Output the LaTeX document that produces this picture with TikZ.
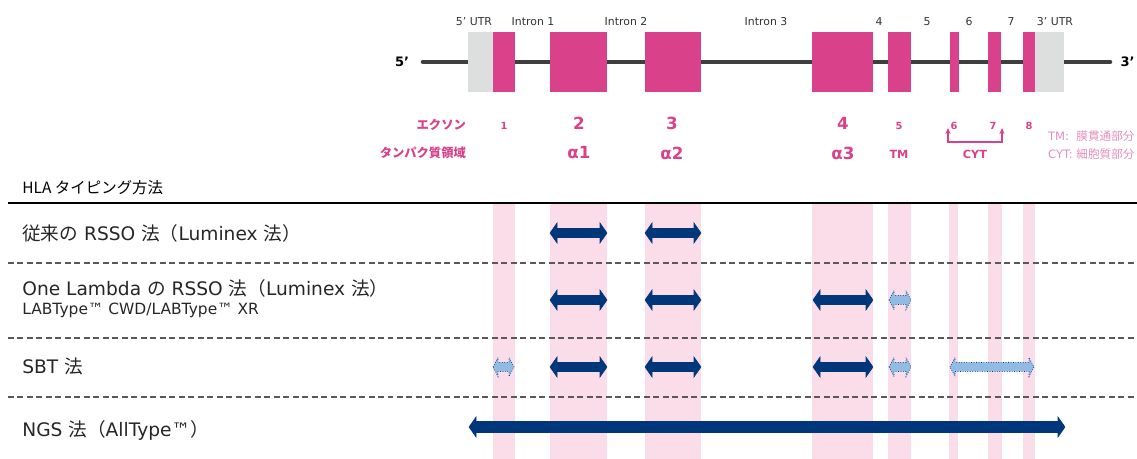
\documentclass[tikz,border=0pt]{standalone}
\usepackage{fontspec}
\setmainfont{DejaVu Sans}
\newfontfamily\jp{Noto Sans CJK JP}
\usetikzlibrary{arrows.meta}

\definecolor{exonpink}{HTML}{D9418A}
\definecolor{utrgray}{HTML}{DDDFDE}
\definecolor{genegray}{HTML}{3E3E3E}
\definecolor{stripepink}{HTML}{FBDDEA}
\definecolor{navy}{HTML}{00367A}
\definecolor{skyblue}{HTML}{92BBE3}
\definecolor{legendpink}{HTML}{E68DBB}

%% block arrow with two heads: [style]{x left}{x right}{y}
\newcommand{\blockarrow}[4][navy_arrow]{%
  \draw[#1] (#2,#4) -- (#2+\hl,#4-\hh) -- (#2+\hl,#4-\hb) -- (#3-\hl,#4-\hb)
    -- (#3-\hl,#4-\hh) -- (#3,#4) -- (#3-\hl,#4+\hh) -- (#3-\hl,#4+\hb)
    -- (#2+\hl,#4+\hb) -- (#2+\hl,#4+\hh) -- cycle;}

\begin{document}
\begin{tikzpicture}[
    x=0.02cm, y=-0.02cm,
    arrow_dims/.code n args={3}{\def\hl{#1}\def\hh{#2}\def\hb{#3}},
    navy_arrow/.style={fill=navy, draw=navy, line width=0.3pt, arrow_dims={7}{10}{4.5}},
    sky_arrow/.style={fill=skyblue, draw=navy, line width=0.4pt, densely dotted, arrow_dims={5}{9.5}{4.5}},
    ngs_arrow/.style={fill=navy, draw=navy, line width=0.3pt, arrow_dims={7}{10}{5.5}},
    stripe/.style={fill=stripepink},
    row_sep/.style={draw=black!65, line width=0.8pt, dash pattern=on 3.4pt off 2pt},
    toplabel/.style={font=\fontsize{6.2}{7}\selectfont, text=black!80, inner sep=1pt},
    exon_num/.style={font=\fontsize{5.6}{6}\selectfont\bfseries, text=exonpink, inner sep=1pt},
    exon_big/.style={font=\fontsize{9.5}{10}\selectfont\bfseries, text=exonpink, inner sep=1pt},
    domain_small/.style={font=\fontsize{6.4}{7}\selectfont\bfseries, text=exonpink, inner sep=1pt},
    row_head/.style={font=\fontsize{7}{8}\selectfont\jp\bfseries, text=exonpink, anchor=east, inner sep=1pt},
    legend/.style={font=\fontsize{6.6}{7}\selectfont, text=legendpink, anchor=west, inner sep=1pt},
    method/.style={font=\fontsize{10.6}{12}\selectfont, text=black!85, anchor=west, inner sep=0pt},
    method_sub/.style={font=\fontsize{8.8}{9}\selectfont, text=black!85, anchor=west, inner sep=0pt}
]
\useasboundingbox (0,0) rectangle (1137,459);

%% ── exon stripes ───────────────────────────
\foreach \xa/\xb in {493/515, 550/607, 645/701, 812/873, 888/911, 949/958, 988/1002, 1023/1035}{
    \fill[stripe] (\xa,203) rectangle (\xb,459);
}

%% ── gene structure ─────────────────────────
\draw[genegray, line width=2.6pt, line cap=round] (423,62) -- (1110,62);
\fill[utrgray] (468,32) rectangle (493,92);
\fill[utrgray] (1035,32) rectangle (1064,92);
\foreach \xa/\xb in {493/515, 550/607, 645/701, 812/873, 888/911, 950/959, 988/1001, 1023/1035}{
    \fill[exonpink] (\xa,32) rectangle (\xb,92);
}
\node[font=\fontsize{7.4}{8}\selectfont\bfseries] (end5) at (402,62) {5’};
\node[font=\fontsize{7.4}{8}\selectfont\bfseries, anchor=east, inner sep=0pt] (end3) at (1135,62) {3’};

% labels above the gene
\foreach \x/\t [count=\i] in {474/5’ UTR, 533/Intron 1, 626/Intron 2, 766/Intron 3,
        879/4, 927/5, 969/6, 1011/7, 1055/3’ UTR}{
    \node[toplabel] (top\i) at (\x,22) {\t};
}

% exon numbers and protein domains
\node[row_head] (exonhead) at (468,125) {エクソン};
\node[row_head] (domainhead) at (468,153) {タンパク質領域};
\foreach \x/\t in {504/1, 899/5, 954/6, 993/7, 1029/8}{
    \node[exon_num] (ex\t) at (\x,126) {\t};
}
\foreach \x/\t in {579/2, 672/3, 843/4}{
    \node[exon_big] (ex\t) at (\x,123) {\t};
}
\foreach \x/\t [count=\i] in {579/α1, 672/α2, 843/α3}{
    \node[exon_big] (alpha\i) at (\x,153) {\t};
}
\node[domain_small] (tm) at (899,154) {TM};
\node[domain_small] (cyt) at (975,154) {CYT};
\draw[exonpink, line width=0.6pt, {Stealth[length=3.5pt,width=3pt]}-{Stealth[length=3.5pt,width=3pt]}]
    (948,128) |- (1002,142) -- (1002,128);
\node[legend] (tmkey) at (1046,136) {TM:\ \ {\jp 膜貫通部分}};
\node[legend] (cytkey) at (1046,154) {CYT: {\jp 細胞質部分}};

%% ── typing methods ─────────────────────────
\node[font=\fontsize{8.8}{9}\selectfont\jp, anchor=west, inner sep=0pt] (hla) at (22,188) {HLA タイピング方法};
\draw[black, line width=1.3pt] (8,203) -- (1137,203);
\foreach \y in {263, 338, 397}{
    \draw[row_sep] (8,\y) -- (1137,\y);
}

\node[method] (rsso) at (22,233) {{\jp 従来の} RSSO {\jp 法（}Luminex {\jp 法）}};
\node[method] (onelambda) at (22,288) {One Lambda {\jp の} RSSO {\jp 法（}Luminex {\jp 法）}};
\node[method_sub] (labtype) at (22,310) {LABType™ CWD/LABType™ XR};
\node[method] (sbt) at (22,366) {SBT {\jp 法}};
\node[method] (ngs) at (22,430) {NGS {\jp 法（}AllType™{\jp ）}};

% coverage arrows
\blockarrow{550}{607}{233}
\blockarrow{645}{701}{233}

\blockarrow{550}{607}{300}
\blockarrow{645}{701}{300}
\blockarrow{813}{873}{300}
\blockarrow[sky_arrow]{889}{911}{300}

\blockarrow[sky_arrow]{493}{514}{367}
\blockarrow{550}{607}{367}
\blockarrow{645}{701}{367}
\blockarrow{813}{873}{367}
\blockarrow[sky_arrow]{889}{911}{367}
\blockarrow[sky_arrow]{950}{1034}{367}

\blockarrow[ngs_arrow]{469}{1065}{427}

\end{tikzpicture}
\end{document}
